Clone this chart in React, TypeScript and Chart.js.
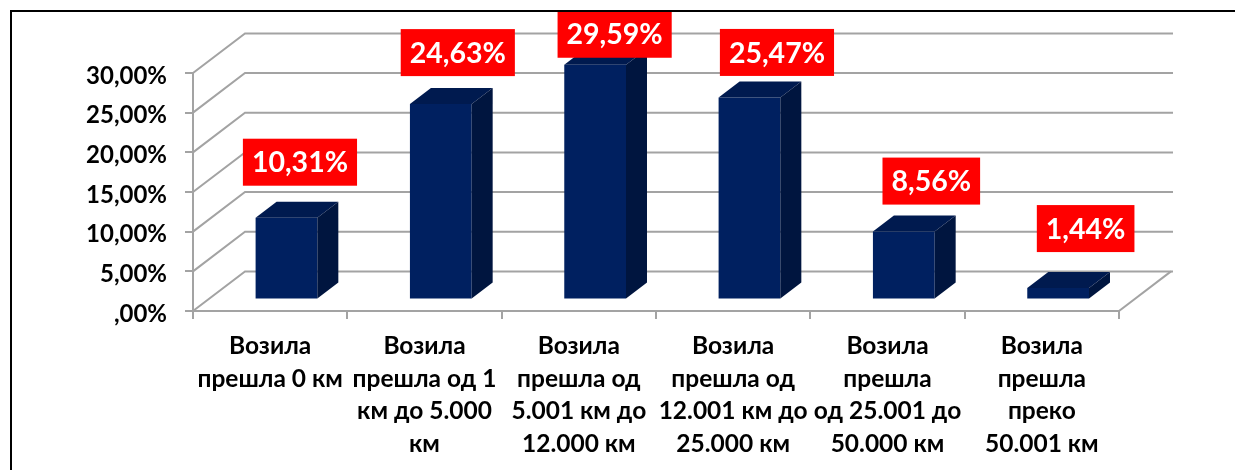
import React, { useEffect, useRef } from "react";
import { Chart, registerables } from "chart.js";

Chart.register(...registerables);

const categories: string[][] = [
  ["Возила", "прешла 0 км"],
  ["Возила", "прешла од 1", "км до 5.000", "км"],
  ["Возила", "прешла од", "5.001 км до", "12.000 км"],
  ["Возила", "прешла од", "12.001 км до", "25.000 км"],
  ["Возила", "прешла", "од 25.001 до", "50.000 км"],
  ["Возила", "прешла", "преко", "50.001 км"],
];
const shares = [10.31, 24.63, 29.59, 25.47, 8.56, 1.44];
const labelOffsets = [
  [13.5, -55.5],
  [17, -51.5],
  [19.5, -30.5],
  [27.5, -45],
  [27.5, -50.5],
  [27.5, -59.5],
];

const FONT = "Lato, 'Open Sans', sans-serif";
const GRID = "#a3a3a3";
const WALL = { dx: 52, dy: -39.6 };
const BAR_SHIFT = { dx: 16.3, dy: -11.5 };
const BAR_DEPTH = { dx: 21, dy: -16 };

const fmt = (v: number) => {
  const s = v.toFixed(2).replace(".", ",");
  return (s.startsWith("0,") ? s.slice(1) : s) + "%";
};

const depthPlugin = {
  id: "depth",
  beforeDatasetsDraw(chart: any) {
    const { ctx, scales } = chart;
    const y = scales.y;
    const left = scales.x.left;
    const right = scales.x.right;
    ctx.save();
    ctx.strokeStyle = GRID;
    ctx.lineWidth = 2;
    y.ticks.forEach((t: any) => {
      const py = y.getPixelForValue(t.value);
      ctx.beginPath();
      ctx.moveTo(left, py);
      ctx.lineTo(left + WALL.dx, py + WALL.dy);
      ctx.lineTo(right + WALL.dx + 2, py + WALL.dy);
      ctx.stroke();
    });
    const py0 = y.getPixelForValue(0);
    ctx.beginPath();
    ctx.moveTo(right, py0);
    ctx.lineTo(right + WALL.dx, py0 + WALL.dy);
    ctx.stroke();
    ctx.restore();
    ctx.save();
    ctx.translate(BAR_SHIFT.dx, BAR_SHIFT.dy);
  },
  afterDatasetsDraw(chart: any) {
    const { ctx } = chart;
    const meta = chart.getDatasetMeta(0);
    meta.data.forEach((bar: any) => {
      const l = bar.x - bar.width / 2;
      const r = bar.x + bar.width / 2;
      const t = bar.y;
      const b = bar.base;
      ctx.fillStyle = "#001a4f";
      ctx.beginPath();
      ctx.moveTo(l, t);
      ctx.lineTo(l + BAR_DEPTH.dx, t + BAR_DEPTH.dy);
      ctx.lineTo(r + BAR_DEPTH.dx, t + BAR_DEPTH.dy);
      ctx.lineTo(r, t);
      ctx.closePath();
      ctx.fill();
      ctx.fillStyle = "#00153f";
      ctx.beginPath();
      ctx.moveTo(r, t);
      ctx.lineTo(r + BAR_DEPTH.dx, t + BAR_DEPTH.dy);
      ctx.lineTo(r + BAR_DEPTH.dx, b + BAR_DEPTH.dy);
      ctx.lineTo(r, b);
      ctx.closePath();
      ctx.fill();
    });
    ctx.restore();
    ctx.save();
    ctx.font = `bold 28.5px ${FONT}`;
    ctx.textAlign = "center";
    ctx.textBaseline = "middle";
    meta.data.forEach((bar: any, i: number) => {
      const text = fmt(shares[i]);
      const cx = bar.x + BAR_SHIFT.dx + labelOffsets[i][0];
      const cy = bar.y + BAR_SHIFT.dy + labelOffsets[i][1];
      const w = ctx.measureText(text).width + 18;
      ctx.fillStyle = "#ff0000";
      ctx.fillRect(cx - w / 2, cy - 23.5, w, 47);
      ctx.fillStyle = "#ffffff";
      ctx.fillText(text, cx, cy + 1);
    });
    ctx.restore();
  },
};

export default function App() {
  const ref = useRef<HTMLCanvasElement>(null);
  useEffect(() => {
    const chart = new Chart(ref.current!, {
      type: "bar",
      data: {
        labels: categories,
        datasets: [
          {
            data: shares,
            backgroundColor: "#002060",
            barPercentage: 0.4,
            categoryPercentage: 1,
            clip: false,
          } as any,
        ],
      },
      options: {
        responsive: false,
        animation: false,
        layout: { padding: { top: 73, right: 116, left: 0, bottom: 0 } },
        plugins: { legend: { display: false }, tooltip: { enabled: false } },
        scales: {
          x: {
            afterFit: (s: any) => {
              s.height = 159;
            },
            border: { color: GRID, width: 2 },
            grid: { drawOnChartArea: false, color: GRID, lineWidth: 2, tickLength: 8 },
            ticks: {
              color: "#000000",
              maxRotation: 0,
              autoSkip: false,
              padding: 11,
              font: { family: FONT, weight: "bold", size: 24.5, lineHeight: 1.33 },
            },
          },
          y: {
            min: 0,
            max: 30,
            afterFit: (s: any) => {
              s.width = 193;
            },
            border: { color: GRID, width: 2 },
            grid: { drawOnChartArea: false, color: GRID, lineWidth: 2, tickLength: 8 },
            ticks: {
              stepSize: 5,
              color: "#000000",
              padding: 18,
              labelOffset: 3,
              callback: (v: any) => fmt(Number(v)),
              font: { family: FONT, weight: "bold", size: 24 },
            },
          },
        },
      },
      plugins: [depthPlugin],
    });
    return () => chart.destroy();
  }, []);
  return (
    <div style={{ position: "absolute", left: 0, top: 0, width: 1235, height: 470, overflow: "hidden", background: "#fff" }}>
      <canvas ref={ref} width={1235} height={470} style={{ position: "absolute", left: 0, top: 0 }} />
      <div
        style={{
          position: "absolute",
          left: 10,
          top: 10,
          width: 1225,
          height: 460,
          boxSizing: "border-box",
          borderTop: "2.5px solid #000",
          borderLeft: "2.5px solid #000",
          pointerEvents: "none",
        }}
      />
    </div>
  );
}
